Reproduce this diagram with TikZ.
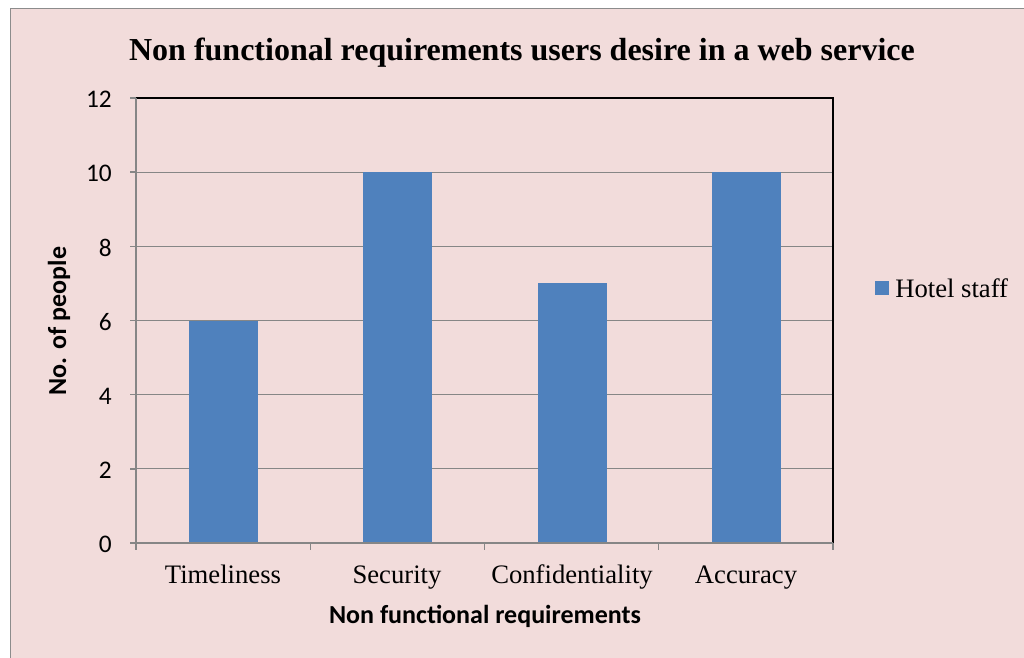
\documentclass[tikz,border=0pt]{standalone}
\usepackage{fontspec}
\setmainfont{Liberation Serif}
\newfontfamily\calibri{Carlito}
\definecolor{chartbg}{HTML}{F2DCDB}
\definecolor{barblue}{HTML}{4F81BD}
\definecolor{gridgray}{HTML}{868686}
\definecolor{framegray}{HTML}{8C8C8C}
\tikzset{
  gridline/.style={draw=gridgray, line width=0.9pt},
  axisline/.style={draw=gridgray, line width=1.1pt},
  plotedge/.style={draw=black, line width=1.2pt},
  barfill/.style={fill=barblue, draw=none},
  ticklabel/.style={font=\calibri\fontsize{19}{22}\selectfont, anchor=east, inner sep=0pt},
  catlabel/.style={font=\fontsize{20}{24}\selectfont, anchor=base, inner sep=0pt},
  axistitle/.style={font=\calibri\bfseries\fontsize{19.5}{23}\selectfont, inner sep=0pt},
}
\begin{document}
\begin{tikzpicture}[x=0.75pt,y=-0.75pt]
  \useasboundingbox (0,0) rectangle (1024,657);
  \fill[white] (0,0) rectangle (1024,657);
  % chart area
  \begin{scope}
    \clip (0,0) rectangle (1024,657);
    \filldraw[fill=chartbg, draw=framegray, line width=1.3pt] (10.5,8.5) rectangle (1040,680);
  \end{scope}
  % title
  \node[font=\bfseries\fontsize{24}{28}\selectfont, anchor=base, inner sep=0pt] (title) at (522,60)
    {Non functional requirements users desire in a web service};
  % horizontal gridlines
  \foreach \v in {2,4,...,10} {
    \draw[gridline] (136,{543-37.083*\v}) -- (833,{543-37.083*\v});
  }
  % bars
  \foreach \c/\v [count=\i] in {223/6, 397/10, 572/7, 746/10} {
    \fill[barfill] ({\c-34.5},543) rectangle ({\c+34.5},{543-37.083*\v});
  }
  % plot frame: top and right edges in black
  \draw[plotedge] (136,98) -- (833,98) -- (833,543);
  % axes
  \draw[axisline] (136,98) -- (136,543) -- (833,543);
  % y ticks and labels
  \foreach \v in {0,2,...,12} {
    \draw[axisline] (130,{543-37.083*\v}) -- (136,{543-37.083*\v});
    \node[ticklabel] (yl\v) at (112,{544.5-37.083*\v}) {\v};
  }
  % x ticks
  \foreach \x in {136, 310.25, 484.5, 658.75, 833} {
    \draw[axisline] (\x,543) -- (\x,549.5);
  }
  % category labels
  \node[catlabel] (c1) at (223,583) {Timeliness};
  \node[catlabel] (c2) at (397,583) {Security};
  \node[catlabel] (c3) at (572,583) {Confidentiality};
  \node[catlabel] (c4) at (746,583) {Accuracy};
  % axis titles
  \node[axistitle, anchor=base] (xtitle) at (485,623) {Non functional requirements};
  \node[axistitle, anchor=base, rotate=90] (ytitle) at (66,321) {No. of people};
  % legend
  \fill[barfill] (875,281) rectangle (889,295);
  \node[font=\fontsize{20}{24}\selectfont, anchor=base west, inner sep=0pt] (leg) at (895,297) {Hotel staff};
\end{tikzpicture}
\end{document}
